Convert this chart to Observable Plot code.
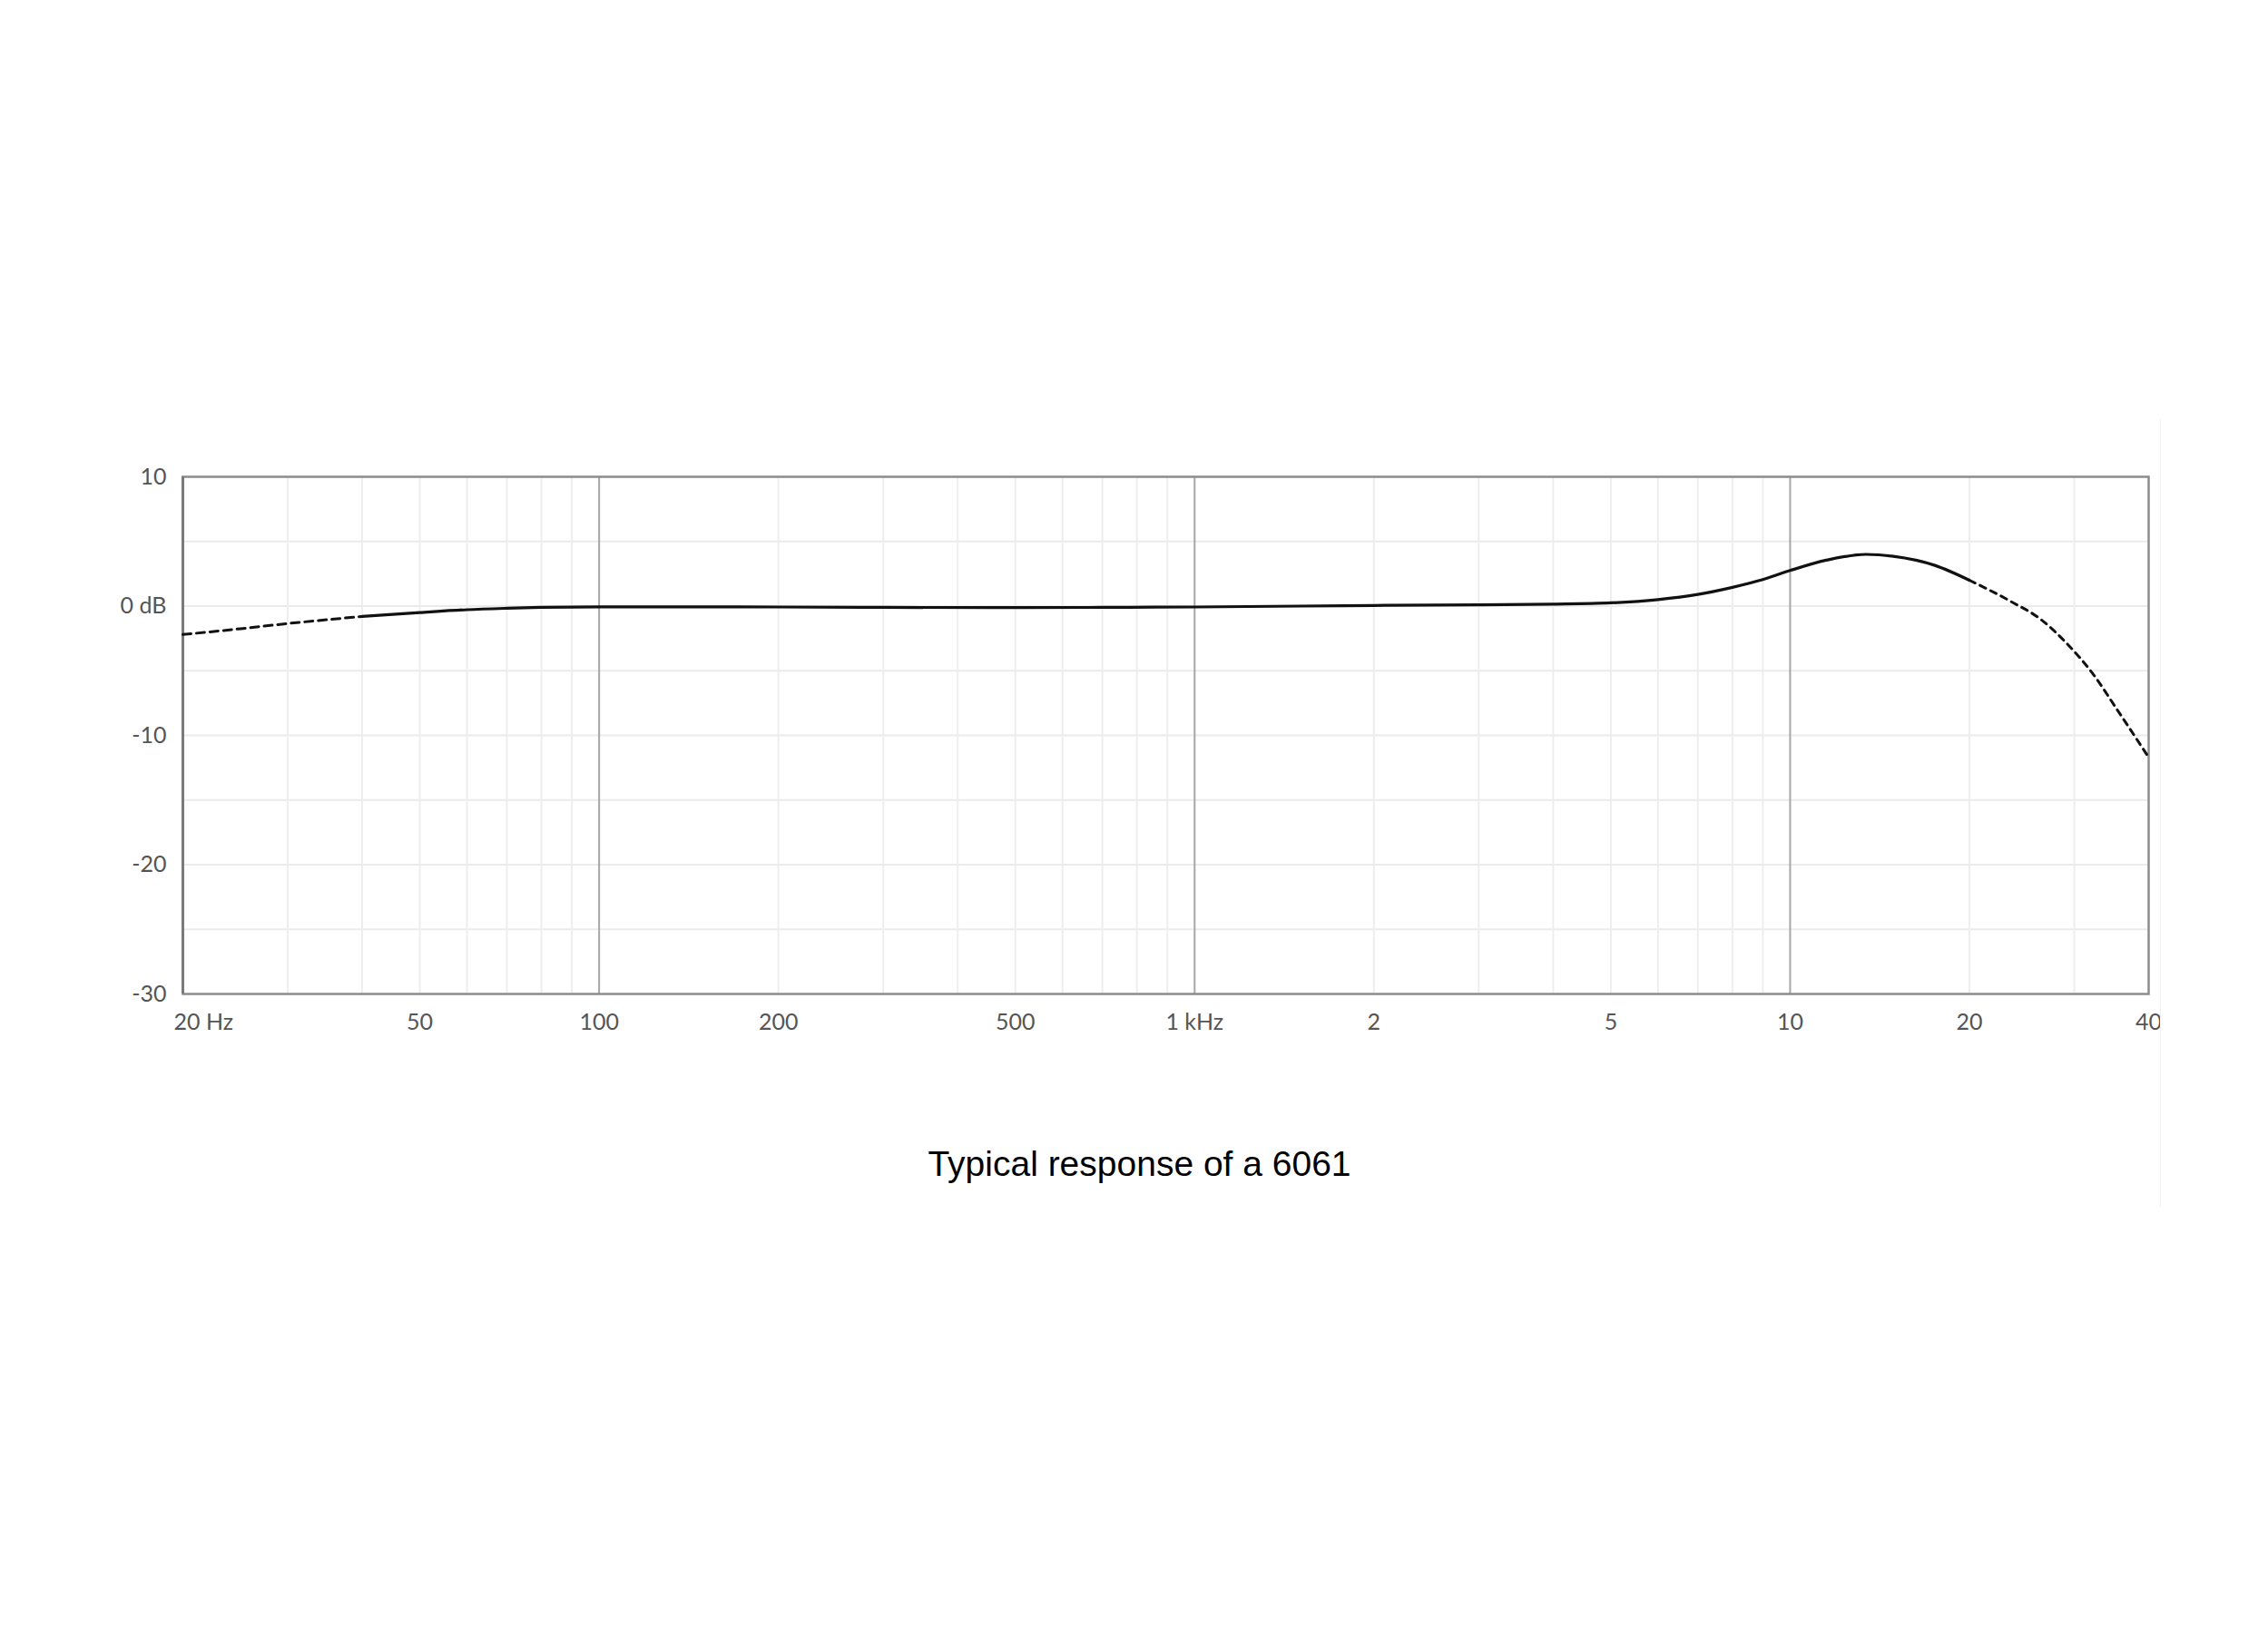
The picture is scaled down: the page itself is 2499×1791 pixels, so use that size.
<!DOCTYPE html>
<html>
<head>
<meta charset="utf-8">
<script src="https://cdn.jsdelivr.net/npm/d3@7"></script>
<script src="https://cdn.jsdelivr.net/npm/@observablehq/plot@0.6"></script>
<style>
  html, body { margin: 0; padding: 0; background: #ffffff; }
  body { width: 2499px; height: 1791px; position: relative; overflow: hidden; }
  #wrap { position: absolute; left: 0; top: 462px; width: 2380px; height: 869px; overflow: hidden; border-right: 1px solid #f1f1f1; }
  #wrap svg { max-width: none !important; }
  #caption { position: absolute; left: 6px; width: 2499px; top: 1263px; text-align: center;
             font-family: "Liberation Sans", Arial, sans-serif; font-size: 39px; line-height: 39px; color: #000; }
</style>
</head>
<body>
<div id="wrap"></div>
<div id="caption">Typical response of a 6061</div>
<script>
// ---- data (frequency in Hz, level in dB) ----
const lowFreq  = [20, 25, 30, 35, 40];
const lowDb    = [-2.2, -1.75, -1.35, -1.05, -0.8];

const midFreq  = [40, 50, 60, 70, 80, 100, 150, 200, 300, 500, 700, 1000, 1500, 2000, 3000, 4000, 5000, 6000, 7000, 8000, 9000, 10000, 11500, 13400, 14900, 17500, 20000];
const midDb    = [-0.8, -0.5, -0.28, -0.17, -0.1, -0.06, -0.06, -0.07, -0.1, -0.12, -0.1, -0.07, 0, 0.05, 0.1, 0.15, 0.25, 0.5, 0.9, 1.45, 2.05, 2.75, 3.55, 4.0, 3.85, 3.15, 2.0];

const highFreq = [20000, 23500, 26400, 29300, 32200, 35400, 40000];
const highDb   = [2.0, 0.35, -1.05, -3.0, -5.2, -8.0, -11.7];

const xTicks      = [20, 50, 100, 200, 500, 1000, 2000, 5000, 10000, 20000, 40000];
const xTickLabels = ["20 Hz", "50", "100", "200", "500", "1 kHz", "2", "5", "10", "20", "40"];
const yTicks      = [10, 0, -10, -20, -30];
const yTickLabels = ["10", "0 dB", "-10", "-20", "-30"];

const decadeLines = [100, 1000, 10000];
const minorLines  = [30, 40, 50, 60, 70, 80, 90, 200, 300, 400, 500, 600, 700, 800, 900,
                     2000, 3000, 4000, 5000, 6000, 7000, 8000, 9000, 20000, 30000];
const yGrid       = [5, 0, -5, -10, -15, -20, -25];

const toRows = (fs, ds) => fs.map((f, i) => ({f, db: ds[i]}));
const low = toRows(lowFreq, lowDb);
const mid = toRows(midFreq, midDb);
const high = toRows(highFreq, highDb);

const xRows = xTicks.map((t, i) => ({t, label: xTickLabels[i]}));
const firstTick = xRows.slice(0, 1);
const otherTicks = xRows.slice(1);
const yLabel = d => yTickLabels[yTicks.indexOf(d)];

const chart = Plot.plot({
  width: 2400,
  height: 693,
  marginLeft: 201,
  marginRight: 33,
  marginTop: 63,
  marginBottom: 60,
  style: {fontFamily: "Lato, 'Open Sans', sans-serif", fontSize: "25px", color: "#555", background: "transparent", maxWidth: "none"},
  x: {type: "log", domain: [20, 40000], axis: null},
  y: {domain: [-30, 10]},
  marks: [
    Plot.ruleY(yGrid, {stroke: "#ebebeb", strokeWidth: 2}),
    Plot.ruleX(minorLines, {stroke: "#eeeeee", strokeWidth: 2}),
    Plot.ruleX(decadeLines, {stroke: "#a6a6a6", strokeWidth: 2}),
    Plot.frame({stroke: "#8c8c8c", strokeWidth: 2.5}),
    Plot.ruleX([20], {stroke: "#7a7a7a", strokeWidth: 3}),
    Plot.axisY({ticks: yTicks, tickFormat: yLabel, tickSize: 0, tickPadding: 18, label: null}),
    Plot.text(firstTick, {x: "t", text: "label", frameAnchor: "bottom", lineAnchor: "top", dy: 22, textAnchor: "start", dx: -10, fill: "#555"}),
    Plot.text(otherTicks, {x: "t", text: "label", frameAnchor: "bottom", lineAnchor: "top", dy: 22, fill: "#555"}),
    Plot.line(low, {x: "f", y: "db", stroke: "#111", strokeWidth: 3, strokeDasharray: "9,6", curve: "monotone-x"}),
    Plot.line(mid, {x: "f", y: "db", stroke: "#111", strokeWidth: 3.2, curve: "monotone-x"}),
    Plot.line(high, {x: "f", y: "db", stroke: "#111", strokeWidth: 3, strokeDasharray: "7,6", curve: "monotone-x"})
  ]
});
document.getElementById("wrap").appendChild(chart);
</script>
</body>
</html>
